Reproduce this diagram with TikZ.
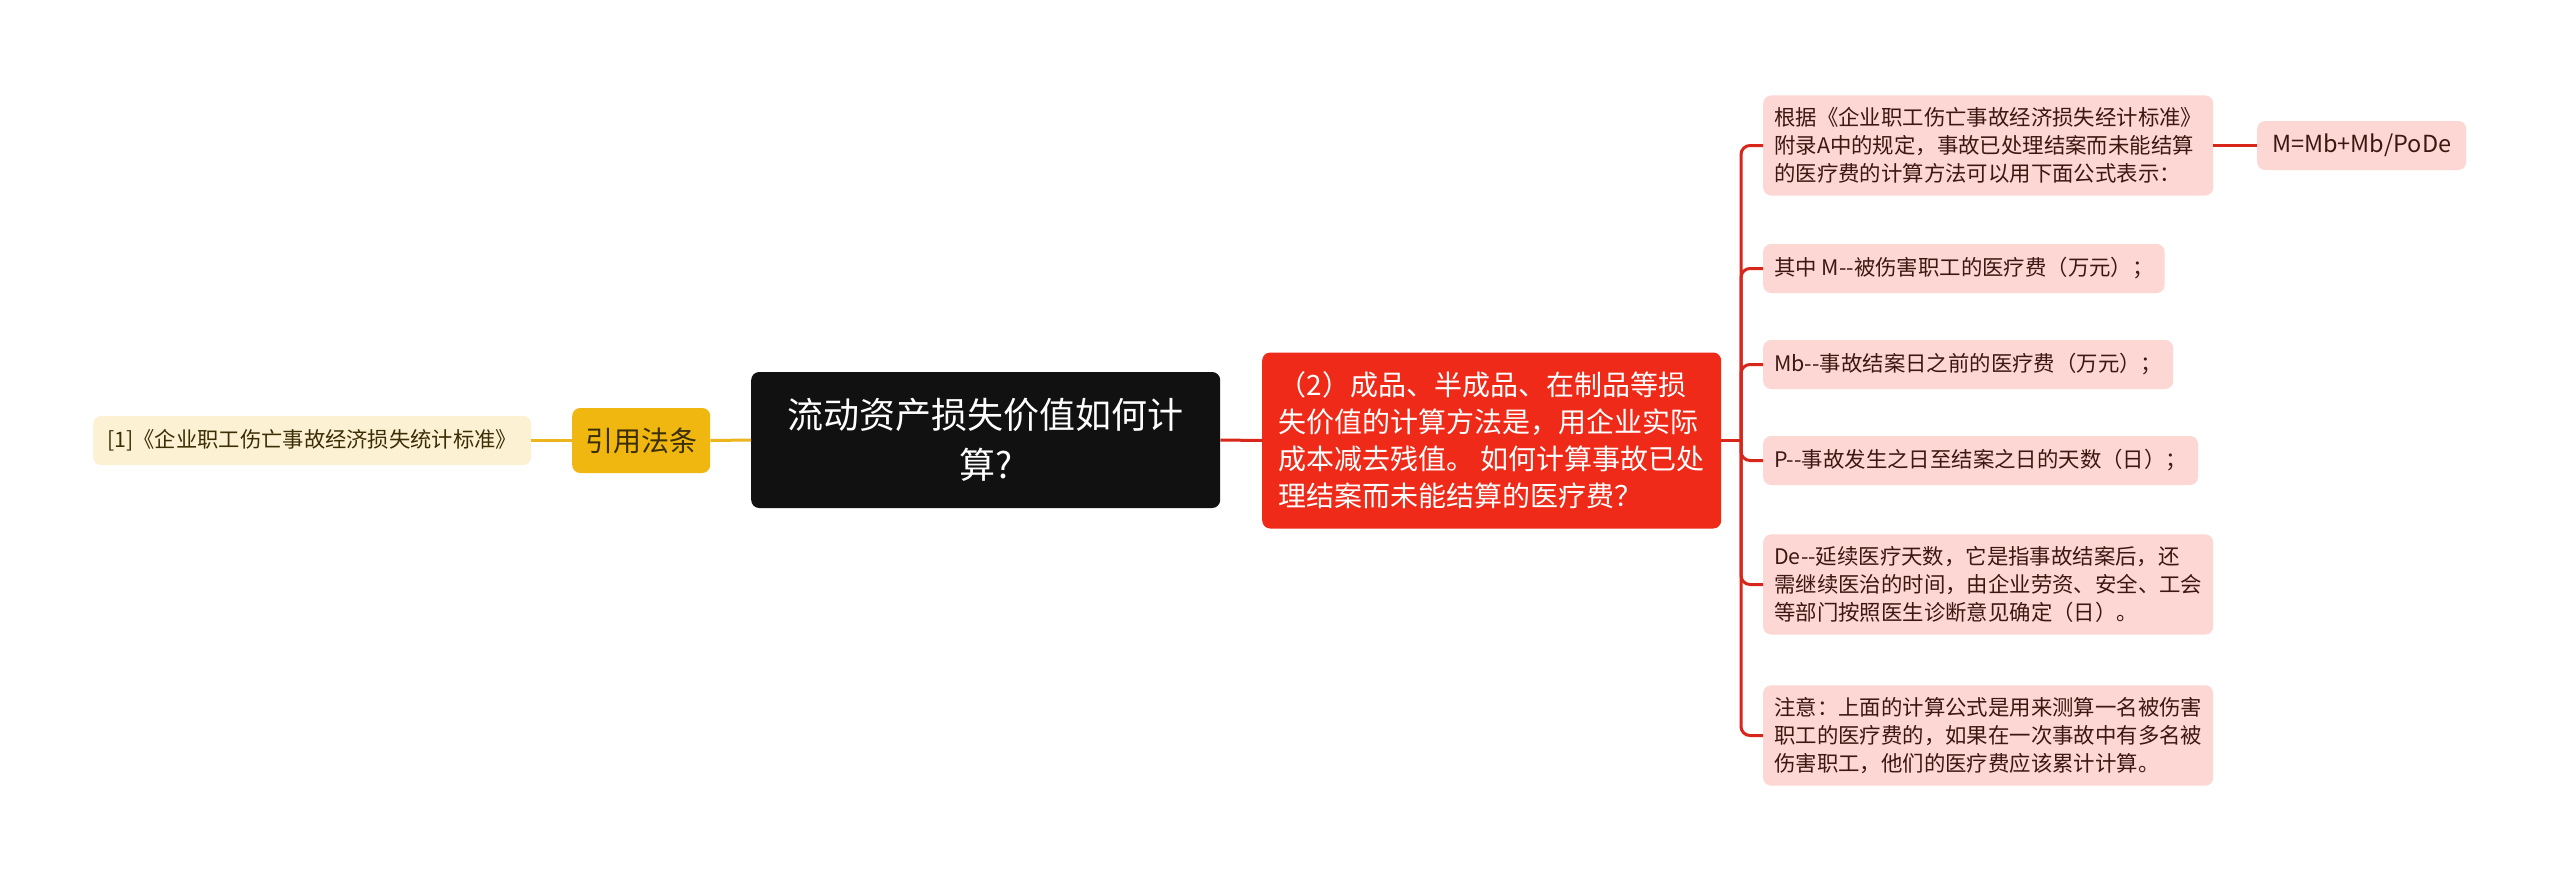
\documentclass[tikz,border=0pt]{standalone}
\usepackage{fontspec}
\setmainfont{Noto Sans CJK SC}
\definecolor{leafpink}{HTML}{FCD7D4}
\definecolor{leaftext}{HTML}{3E1712}
\definecolor{redbox}{HTML}{EF2A19}
\definecolor{redline}{HTML}{D8261B}
\definecolor{rootblack}{HTML}{111111}
\definecolor{goldbox}{HTML}{EFB70F}
\definecolor{goldline}{HTML}{EDB51C}
\definecolor{paleyellow}{HTML}{FDF1D4}
\definecolor{darktext}{HTML}{3A2E05}
\begin{document}
\begin{tikzpicture}[x=1pt,y=-1pt,
  boxbase/.style={rounded corners=8pt, anchor=west, inner sep=0pt},
  leaf/.style={boxbase, fill=leafpink, text=leaftext, align=left, inner xsep=11pt, inner ysep=12pt, minimum height=49pt, font=\fontsize{21.4}{28}\selectfont},
  redl/.style={draw=redline, line width=3pt},
  goldl/.style={draw=goldline, line width=3pt}]
\useasboundingbox (0,0) rectangle (2560,881);
\fill[white] (0,0) rectangle (2560,881);

% left side
\node[boxbase, fill=paleyellow, text=darktext, minimum width=438pt, minimum height=49pt, font=\fontsize{21.3}{26}\selectfont] (ref) at (93,440.5) {[1]《企业职工伤亡事故经济损失统计标准》};
\node[boxbase, fill=goldbox, text=darktext, minimum width=138pt, minimum height=65pt, font=\fontsize{28}{34}\selectfont] (law) at (572,440.5) {引用法条};

% root
\node[boxbase, fill=rootblack, text=white, align=center, minimum width=469pt, minimum height=136pt, font=\fontsize{36}{50}\selectfont] (root) at (751,440) {流动资产损失价值如何计\\算?};

% question
\node[boxbase, fill=redbox, text=white, align=left, minimum width=459pt, minimum height=176pt, font=\fontsize{28}{37}\selectfont] (q) at (1262,440.5) {（2）成品、半成品、在制品等损\\失价值的计算方法是，用企业实际\\成本减去残值。 如何计算事故已处\\理结案而未能结算的医疗费？};

% children
\node[leaf] (c1) at (1763,145.5) {根据《企业职工伤亡事故经济损失经计标准》\\附录A中的规定，事故已处理结案而未能结算\\的医疗费的计算方法可以用下面公式表示：};
\node[leaf] (c2) at (1763,268.5) {其中 M-{}-被伤害职工的医疗费（万元）；};
\node[leaf] (c3) at (1763,364.5) {Mb-{}-事故结案日之前的医疗费（万元）；};
\node[leaf] (c4) at (1763,460.5) {P-{}-事故发生之日至结案之日的天数（日）；};
\node[leaf] (c5) at (1763,584.5) {De-{}-延续医疗天数，它是指事故结案后，还\\需继续医治的时间，由企业劳资、安全、工会\\等部门按照医生诊断意见确定（日）。};
\node[leaf] (c6) at (1763,735.5) {注意：上面的计算公式是用来测算一名被伤害\\职工的医疗费的，如果在一次事故中有多名被\\伤害职工，他们的医疗费应该累计计算。};
\node[leaf, minimum width=209pt, align=center, font=\fontsize{23.5}{28}\selectfont] (f) at (2257,145.5) {M=Mb+Mb/PoDe};

% connectors
\draw[goldl] (ref.east) -- (law.west);
\draw[goldl] (law.east) -- (root.west);
\draw[redl] (root.east) -- (q.west);
\coordinate (fork) at (1741,440.5);
\draw[redl] (q.east) -- (fork);
\foreach \c in {c1,c2,c3,c4,c5,c6}{
  \draw[redl, rounded corners=9pt] (fork) |- (\c.west);
}
\draw[redl] (c1.east) -- (f.west);
\end{tikzpicture}
\end{document}
